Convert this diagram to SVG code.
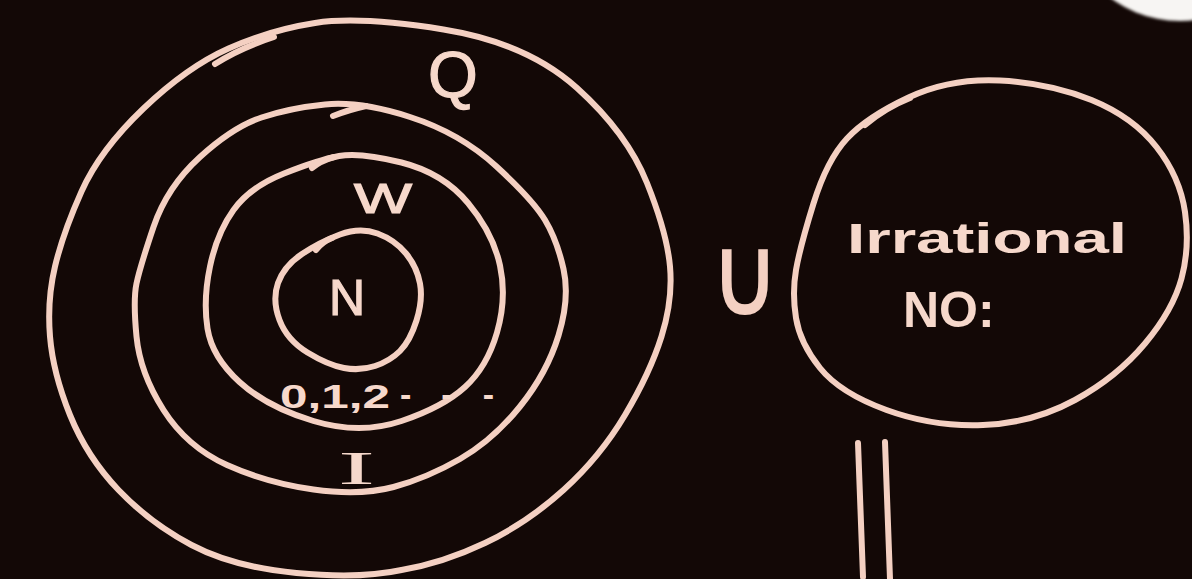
<svg xmlns="http://www.w3.org/2000/svg" width="1192" height="579" viewBox="0 0 1192 579">
  <style>
    .ink { fill: none; stroke: #f4d0c2; stroke-width: 6; stroke-linecap: round; stroke-linejoin: round; }
    .lbl { fill: #f6d8cb; font-family: "Liberation Sans", Arial, sans-serif; font-weight: bold; }
    .thin { font-weight: normal; stroke: #f6d8cb; stroke-width: 1.2; }
    .serif { fill: #f6d8cb; font-family: "Liberation Serif", "Times New Roman", serif; }
    .sym { fill: #f4d0c2; stroke: #f4d0c2; stroke-width: 2; font-family: "DejaVu Sans", sans-serif; }
  </style>
  <defs>
    <filter id="soft" x="-20%" y="-20%" width="140%" height="140%">
      <feGaussianBlur stdDeviation="1.6"/>
    </filter>
  </defs>
  <rect x="0" y="0" width="1192" height="579" fill="#130806"/>

  <!-- partial white disc in top-right corner -->
  <circle cx="1180" cy="-95" r="116" fill="#f7f5f3" filter="url(#soft)"/>

  <g id="set-Q">
    <path class="ink" d="M50,336.5 Q53,373 70,415 Q87,457 118.5,490 Q150,523 191.5,545 Q233,567 296.5,573 Q360,579 401.5,570 Q443,563 485,543 Q527,523 563.5,490 Q600,457 625,415 Q650,373 661.5,336.5 Q673,300 670,266.5 Q667,233 647,183 Q627,133 577,88 Q527,43 443.5,29.5 Q360,16 315,23 Q270,30 228.5,48.5 Q187,67 143.5,108.5 Q100,150 81.5,191.5 Q63,233 55,266.5 Q47,300 50,336.5 Z"/>
    <path class="ink" d="M215,64 Q240,48 274,37"/>
    <text class="lbl thin" x="453" y="97" font-size="64" text-anchor="middle">Q</text>
  </g>

  <g id="set-I">
    <path class="ink" d="M136.5,336.5 Q140,373 163.5,410 Q187,447 227,465 Q267,483 313.5,489.5 Q360,496 393.5,487 Q427,478 460,459 Q493,440 520,406.5 Q547,373 558.5,335.5 Q570,298 563.5,269 Q557,240 545,220 Q533,200 496.5,166.5 Q460,133 410,117 Q360,101 325,104.5 Q290,108 261.5,117.5 Q233,127 200,157 Q167,187 153.5,227 Q140,267 136.5,283.5 Q133,300 136.5,336.5 Z"/>
    <path class="ink" d="M333,116 Q348,110 366,106"/>
    <text class="serif" x="338" y="484" font-size="46" textLength="37" lengthAdjust="spacingAndGlyphs">I</text>
  </g>

  <g id="set-W">
    <path class="ink" d="M207.5,328.5 Q212,357 239.5,382 Q267,407 313.5,421 Q360,435 401.5,421 Q443,407 465,387 Q487,367 497,332.5 Q507,298 500,265.5 Q493,233 468,203 Q443,173 401.5,162.5 Q360,152 339,156 Q318,160 284,173.5 Q250,187 233.5,210 Q217,233 210,266.5 Q203,300 207.5,328.5 Z"/>
    <path class="ink" d="M312,168 Q320,161 334,157"/>
    <text class="lbl thin" x="354" y="213" font-size="42" textLength="58" lengthAdjust="spacingAndGlyphs">W</text>
    <text class="lbl" x="280" y="408" font-size="34" textLength="110" lengthAdjust="spacingAndGlyphs">0,1,2</text>
    <text class="lbl" x="400" y="406" font-size="34" textLength="94" lengthAdjust="spacing">- - -</text>
  </g>

  <g id="set-N">
    <path class="ink" d="M279.5,320 Q287,340 307.5,352.5 Q328,365 344,368 Q360,371 375,366 Q390,361 400,351 Q410,341 416.5,320.5 Q423,300 420,283.5 Q417,267 406,253.5 Q395,240 377.5,233.5 Q360,227 340,234.5 Q320,242 302,254 Q284,266 278,283 Q272,300 279.5,320 Z"/>
    <path class="ink" d="M316,250 Q322,242 332,238"/>
    <text class="lbl thin" x="347" y="315" font-size="50" text-anchor="middle">N</text>
  </g>

  <g id="union">
    <text class="sym" x="745" y="314" font-size="110" text-anchor="middle" textLength="68" lengthAdjust="spacingAndGlyphs">∪</text>
  </g>

  <g id="set-irrational">
    <path class="ink" d="M796,318 Q800,343 820,368 Q840,393 886.5,410 Q933,427 983,425 Q1033,423 1075,400 Q1117,377 1145,343.5 Q1173,310 1181.5,278.5 Q1190,247 1185,212 Q1180,177 1156.5,147 Q1133,117 1091.5,100 Q1050,83 1000,80.5 Q950,78 908.5,97.5 Q867,117 847,138.5 Q827,160 813.5,203.5 Q800,247 796,270 Q792,293 796,318 Z"/>
    <path class="ink" d="M865,125 Q885,108 910,98"/>
    <text class="lbl" x="847" y="253" font-size="42" textLength="280" lengthAdjust="spacingAndGlyphs">Irrational</text>
    <text class="lbl" x="903" y="327" font-size="50">NO:</text>
  </g>

  <g id="connectors">
    <path class="ink" d="M858,443 L863,577"/>
    <path class="ink" d="M885,442 L890,579"/>
  </g>
</svg>
